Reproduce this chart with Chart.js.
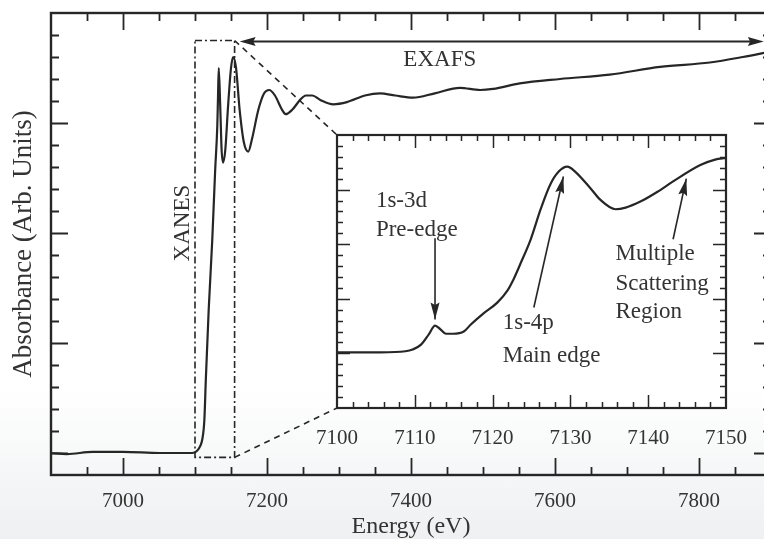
<!DOCTYPE html>
<html>
<head>
<meta charset="utf-8">
<script src="https://cdn.jsdelivr.net/npm/chart.js@4.4.1/dist/chart.umd.min.js"></script>
<style>
  html, body { margin: 0; padding: 0; overflow: hidden; background: #fff; }
  #wrap {
    position: relative; width: 764px; height: 539px; overflow: hidden;
    background: linear-gradient(to bottom, #ffffff 0%, #ffffff 72%, #eef0f1 100%);
  }
  #main { position: absolute; left: 0; top: 0; }
  #inset { position: absolute; left: 300px; top: 120px; }
</style>
</head>
<body>
<div id="wrap">
  <canvas id="main" width="780" height="539"></canvas>
  <canvas id="inset" width="460" height="340"></canvas>
</div>
<script>
// Fe K-edge spectrum, full range
const energy = [6900, 6922, 6958, 7000, 7051, 7096, 7103, 7107, 7110, 7113, 7115, 7119,
  7124, 7128, 7131, 7132, 7133, 7135, 7137, 7139, 7142, 7146, 7150, 7153, 7157, 7162,
  7168, 7174, 7179, 7188, 7196, 7203, 7211, 7221, 7226, 7235, 7246, 7254, 7263, 7274,
  7292, 7311, 7336, 7357, 7378, 7403, 7433, 7468, 7496, 7514, 7551, 7607, 7676, 7746,
  7815, 7861, 7900];
const absorbance = [0.00, -0.01, 0.01, 0.01, 0.00, 0.00, 0.02, 0.06, 0.12, 0.30, 0.66, 1.30,
  1.94, 2.57, 2.98, 3.25, 3.50, 3.16, 2.75, 2.64, 2.75, 3.16, 3.50, 3.60, 3.50, 3.12,
  2.82, 2.74, 2.85, 3.12, 3.27, 3.30, 3.25, 3.12, 3.08, 3.12, 3.21, 3.25, 3.25, 3.21,
  3.17, 3.19, 3.25, 3.27, 3.25, 3.23, 3.27, 3.32, 3.30, 3.31, 3.36, 3.40, 3.44, 3.51,
  3.55, 3.60, 3.65];

// edge region, expanded
const edgeEnergy = [7100, 7105.6, 7108.8, 7109.7, 7110.8, 7111.8, 7112.6, 7113.3, 7114, 7114.9,
  7116.3, 7117.2, 7118.8, 7120.6, 7121.9, 7122.7, 7123.6, 7124.9, 7126.2, 7127.4, 7128.5,
  7129.6, 7130.6, 7132.6, 7133.8, 7135.8, 7137.1, 7139, 7141.2, 7143.2, 7146.7, 7148.6, 7150];
const edgeAbsorbance = [1.02, 1.02, 1.04, 1.07, 1.16, 1.35, 1.51, 1.44, 1.36, 1.36,
  1.40, 1.53, 1.73, 1.93, 2.15, 2.36, 2.65, 3.09, 3.65, 4.09, 4.33,
  4.42, 4.33, 4.02, 3.82, 3.64, 3.67, 3.78, 3.96, 4.15, 4.45, 4.55, 4.58];

const mainTickLabels = ['7000', '7200', '7400', '7600', '7800'];
const insetTickLabels = ['7100', '7110', '7120', '7130', '7140', '7150'];

const INK = '#262626';
const TEXT = '#333333';
const SERIF = "'Liberation Serif', 'DejaVu Serif', serif";

function points(xs, ys) {
  return xs.map((x, i) => ({ x: x, y: ys[i] }));
}

// plain labels, no thousands separator
function labelFrom(list) {
  return v => list.find(l => Number(l) === v) || '';
}

// inward ticks on all four sides of the plot area
function drawFrameTicks(chart, t) {
  const { ctx, chartArea: a, scales: { x, y } } = chart;
  ctx.save();
  ctx.strokeStyle = INK;
  ctx.lineWidth = t.width;
  ctx.beginPath();
  for (let i = 0; ; i++) {
    const v = t.xStart + i * t.xStep;
    if (v > x.max + 1e-9) break;
    if (v <= x.min + 1e-9 || v >= x.max - 1e-9) continue;
    const major = Math.abs((v - t.xMajorFrom) / t.xMajor - Math.round((v - t.xMajorFrom) / t.xMajor)) < 1e-6;
    const len = major ? t.major : t.minor;
    const px = Math.round(x.getPixelForValue(v)) + 0.5;
    ctx.moveTo(px, a.bottom); ctx.lineTo(px, a.bottom - len);
    ctx.moveTo(px, a.top); ctx.lineTo(px, a.top + len);
  }
  for (let i = 0; ; i++) {
    const v = t.yStart + i * t.yStep;
    if (v > y.max + 1e-9) break;
    if (v <= y.min + 1e-9 || v >= y.max - 1e-9) continue;
    const major = Math.abs(v - Math.round(v)) < 1e-6;
    const len = major ? t.major : t.minor;
    const py = Math.round(y.getPixelForValue(v)) + 0.5;
    ctx.moveTo(a.left, py); ctx.lineTo(a.left + len, py);
    ctx.moveTo(a.right, py); ctx.lineTo(a.right - len, py);
  }
  ctx.stroke();
  ctx.lineWidth = t.frame;
  ctx.strokeRect(a.left, a.top, a.right - a.left, a.bottom - a.top);
  ctx.restore();
}

function arrowHead(ctx, tipX, tipY, fromX, fromY, len, half) {
  const ang = Math.atan2(tipY - fromY, tipX - fromX);
  ctx.save();
  ctx.translate(tipX, tipY);
  ctx.rotate(ang);
  ctx.beginPath();
  ctx.moveTo(0, 0);
  ctx.lineTo(-len, -half);
  ctx.lineTo(-len * 0.85, 0);
  ctx.lineTo(-len, half);
  ctx.closePath();
  ctx.fill();
  ctx.restore();
}

function arrow(ctx, x0, y0, x1, y1, len, half) {
  ctx.beginPath();
  ctx.moveTo(x0, y0);
  ctx.lineTo(x1, y1);
  ctx.stroke();
  arrowHead(ctx, x1, y1, x0, y0, len, half);
}

// ---- inset: expanded edge region ----
const insetLabels = [
  { text: '1s-3d', x: 7105.0, y: 3.80 },
  { text: 'Pre-edge', x: 7105.0, y: 3.27 },
  { text: '1s-4p', x: 7121.3, y: 1.56 },
  { text: 'Main edge', x: 7121.3, y: 0.96 },
  { text: 'Multiple', x: 7135.8, y: 2.82 },
  { text: 'Scattering', x: 7135.8, y: 2.27 },
  { text: 'Region', x: 7135.8, y: 1.76 }
];
const insetArrows = [
  { from: [7112.6, 3.11], to: [7112.6, 1.62] },
  { from: [7125.3, 1.84], to: [7129.1, 4.24] },
  { from: [7143.2, 3.09], to: [7144.9, 4.20] }
];

const insetPlugin = {
  id: 'insetFrame',
  beforeDatasetsDraw(chart) {
    const { ctx, chartArea: a } = chart;
    ctx.save();
    ctx.fillStyle = '#ffffff';
    ctx.fillRect(a.left, a.top, a.right - a.left, a.bottom - a.top);
    ctx.restore();
  },
  afterDraw(chart) {
    const { ctx, scales: { x, y } } = chart;
    drawFrameTicks(chart, {
      width: 1.5, frame: 2.2, major: 13, minor: 6,
      xStart: 7100, xStep: 2, xMajor: 10, xMajorFrom: 7100,
      yStart: 0, yStep: 0.2
    });
    ctx.save();
    ctx.fillStyle = TEXT;
    ctx.font = '23px ' + SERIF;
    ctx.textAlign = 'left';
    ctx.textBaseline = 'middle';
    insetLabels.forEach(l => ctx.fillText(l.text, x.getPixelForValue(l.x), y.getPixelForValue(l.y)));
    ctx.strokeStyle = INK;
    ctx.fillStyle = INK;
    ctx.lineWidth = 1.6;
    insetArrows.forEach(a => arrow(ctx,
      x.getPixelForValue(a.from[0]), y.getPixelForValue(a.from[1]),
      x.getPixelForValue(a.to[0]), y.getPixelForValue(a.to[1]), 17, 4.5));
    ctx.restore();
  }
};

const insetChart = new Chart(document.getElementById('inset'), {
  type: 'line',
  data: {
    datasets: [{
      data: points(edgeEnergy, edgeAbsorbance),
      borderColor: INK, borderWidth: 2.2, pointRadius: 0,
      cubicInterpolationMode: 'monotone'
    }]
  },
  options: {
    responsive: false,
    animation: false,
    layout: { padding: { left: 0, top: 15, right: 34, bottom: 0 } },
    plugins: { legend: { display: false }, tooltip: { enabled: false } },
    scales: {
      x: {
        type: 'linear', min: 7100, max: 7150,
        grid: { display: false }, border: { display: false },
        afterBuildTicks: s => { s.ticks = insetTickLabels.map(t => ({ value: Number(t) })); },
        afterFit: s => { s.height = 52; },
        ticks: {
          color: TEXT, font: { family: SERIF, size: 21 }, padding: 10,
          maxRotation: 0, autoSkip: false, callback: labelFrom(insetTickLabels)
        }
      },
      y: {
        type: 'linear', min: 0, max: 5,
        grid: { display: false }, border: { display: false },
        ticks: { display: false },
        afterFit: s => { s.width = 37; }
      }
    }
  },
  plugins: [insetPlugin]
});

// ---- main spectrum ----
const xanesBox = { x0: 7100, x1: 7155, y0: -0.04, y1: 3.75 };
const exafsArrow = { x0: 7162, x1: 7890, y: 3.74 };

const mainPlugin = {
  id: 'mainFrame',
  afterDraw(chart) {
    const { ctx, scales: { x, y } } = chart;
    drawFrameTicks(chart, {
      width: 1.8, frame: 2.4, major: 17, minor: 8,
      xStart: 6900, xStep: 50, xMajor: 200, xMajorFrom: 7000,
      yStart: -0.2, yStep: 0.2
    });

    const bx0 = x.getPixelForValue(xanesBox.x0), bx1 = x.getPixelForValue(xanesBox.x1);
    const by0 = y.getPixelForValue(xanesBox.y0), by1 = y.getPixelForValue(xanesBox.y1);
    ctx.save();
    ctx.strokeStyle = INK;
    ctx.fillStyle = INK;

    // XANES window
    ctx.lineWidth = 1.6;
    ctx.setLineDash([7, 3, 2, 3]);
    ctx.strokeRect(bx0, by1, bx1 - bx0, by0 - by1);

    // lines out to the inset corners
    const ia = insetChart.chartArea;
    const ox = insetChart.canvas.offsetLeft, oy = insetChart.canvas.offsetTop;
    ctx.setLineDash([6, 5]);
    ctx.beginPath();
    ctx.moveTo(bx1, by1); ctx.lineTo(ox + ia.left, oy + ia.top);
    ctx.moveTo(bx1, by0); ctx.lineTo(ox + ia.left, oy + ia.bottom);
    ctx.stroke();
    ctx.setLineDash([]);

    // EXAFS range
    const ay = y.getPixelForValue(exafsArrow.y);
    const ax0 = x.getPixelForValue(exafsArrow.x0), ax1 = x.getPixelForValue(exafsArrow.x1);
    ctx.lineWidth = 2;
    ctx.beginPath();
    ctx.moveTo(ax0 + 10, ay); ctx.lineTo(ax1 - 10, ay);
    ctx.stroke();
    arrowHead(ctx, ax0, ay, ax1, ay, 16, 4.5);
    arrowHead(ctx, ax1, ay, ax0, ay, 16, 4.5);

    ctx.fillStyle = TEXT;
    ctx.font = '23px ' + SERIF;
    ctx.textAlign = 'center';
    ctx.textBaseline = 'middle';
    ctx.fillText('EXAFS', x.getPixelForValue(7440), y.getPixelForValue(3.57));

    ctx.translate(x.getPixelForValue(7083), y.getPixelForValue(2.09));
    ctx.rotate(-Math.PI / 2);
    ctx.fillText('XANES', 0, 0);
    ctx.restore();
  }
};

const mainChart = new Chart(document.getElementById('main'), {
  type: 'line',
  data: {
    datasets: [{
      data: points(energy, absorbance),
      borderColor: INK, borderWidth: 2.2, pointRadius: 0,
      cubicInterpolationMode: 'monotone'
    }]
  },
  options: {
    responsive: false,
    animation: false,
    layout: { padding: { left: 0, top: 13, right: 9, bottom: 0 } },
    plugins: { legend: { display: false }, tooltip: { enabled: false } },
    scales: {
      x: {
        type: 'linear', min: 6900, max: 7900,
        grid: { display: false }, border: { display: false },
        afterBuildTicks: s => { s.ticks = mainTickLabels.map(t => ({ value: Number(t) })); },
        afterFit: s => { s.height = 64; },
        ticks: {
          color: TEXT, font: { family: SERIF, size: 21 }, padding: 6,
          maxRotation: 0, autoSkip: false, callback: labelFrom(mainTickLabels)
        },
        title: {
          display: true, text: 'Energy (eV)', color: TEXT,
          font: { family: SERIF, size: 24 }, padding: { top: 0, bottom: -2 }
        }
      },
      y: {
        type: 'linear', min: -0.2, max: 4,
        grid: { display: false }, border: { display: false },
        ticks: { display: false },
        afterFit: s => { s.width = 51; },
        title: {
          display: true, text: 'Absorbance (Arb. Units)', color: TEXT,
          font: { family: SERIF, size: 27 }, padding: { top: 8, bottom: 0 }
        }
      }
    }
  },
  plugins: [mainPlugin]
});
</script>
</body>
</html>
